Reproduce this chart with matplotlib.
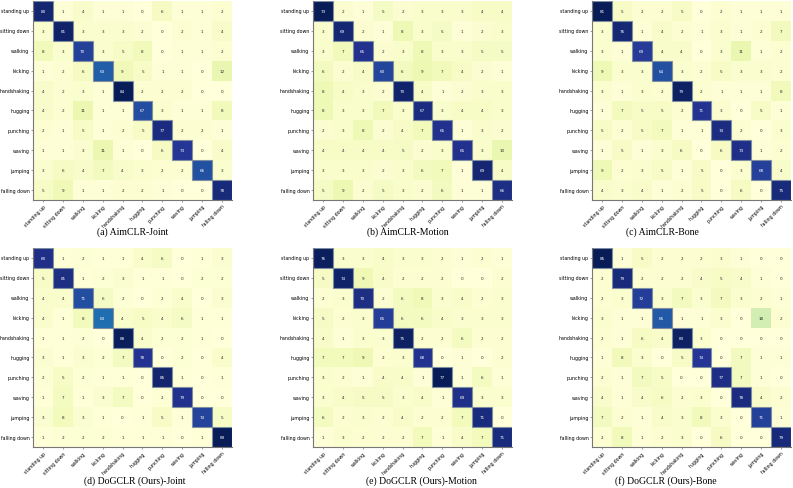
import numpy as np
import matplotlib
matplotlib.use("Agg")
import matplotlib.pyplot as plt
import seaborn as sns
from matplotlib.patches import Rectangle

classes = ["standing up", "sitting down", "walking", "kicking", "handshaking",
           "hugging", "punching", "waving", "jumping", "falling down"]

aimclr_joint = [
    [80, 1, 4, 1, 1, 0, 6, 1, 1, 2],
    [3, 81, 3, 3, 3, 2, 0, 2, 1, 4],
    [8, 3, 70, 3, 5, 8, 0, 1, 1, 2],
    [1, 2, 6, 63, 9, 5, 1, 1, 0, 12],
    [4, 2, 3, 1, 84, 2, 2, 2, 0, 0],
    [4, 2, 11, 1, 1, 67, 3, 1, 1, 8],
    [2, 1, 5, 1, 2, 5, 77, 2, 2, 1],
    [1, 1, 3, 11, 1, 0, 6, 73, 0, 4],
    [3, 6, 4, 7, 4, 3, 2, 2, 66, 3],
    [5, 9, 1, 1, 2, 2, 1, 0, 0, 78],
]
aimclr_motion = [
    [73, 2, 1, 5, 2, 3, 3, 3, 4, 4],
    [3, 69, 2, 1, 8, 3, 5, 1, 2, 3],
    [3, 7, 65, 2, 3, 8, 3, 3, 5, 5],
    [6, 2, 4, 60, 6, 9, 7, 4, 2, 1],
    [8, 4, 3, 2, 70, 4, 1, 2, 3, 3],
    [8, 3, 3, 7, 3, 67, 3, 4, 4, 3],
    [2, 3, 8, 2, 4, 7, 65, 1, 3, 2],
    [4, 4, 4, 4, 5, 2, 3, 65, 3, 10],
    [3, 3, 3, 2, 3, 6, 7, 1, 69, 4],
    [5, 9, 2, 5, 3, 2, 6, 1, 1, 66],
]
aimclr_bone = [
    [81, 5, 2, 2, 5, 0, 2, 1, 1, 1],
    [3, 76, 1, 4, 2, 1, 3, 1, 2, 7],
    [3, 1, 69, 4, 4, 0, 3, 11, 1, 2],
    [9, 3, 3, 64, 3, 2, 5, 3, 3, 2],
    [3, 1, 3, 2, 79, 2, 1, 1, 1, 8],
    [1, 7, 5, 5, 2, 71, 3, 0, 5, 1],
    [5, 2, 5, 7, 1, 1, 74, 2, 0, 3],
    [1, 5, 1, 3, 6, 0, 6, 73, 1, 2],
    [9, 2, 3, 5, 1, 5, 0, 3, 68, 4],
    [4, 3, 4, 1, 2, 5, 0, 6, 0, 75],
]
dogclr_joint = [
    [80, 1, 2, 1, 1, 4, 6, 0, 1, 3],
    [5, 81, 1, 2, 3, 1, 1, 0, 2, 2],
    [4, 4, 71, 6, 2, 0, 2, 4, 0, 3],
    [4, 1, 8, 63, 4, 5, 4, 6, 1, 1],
    [1, 1, 2, 0, 88, 4, 2, 2, 1, 0],
    [3, 1, 3, 2, 7, 78, 0, 2, 0, 4],
    [2, 5, 2, 1, 1, 0, 85, 1, 0, 1],
    [1, 7, 1, 3, 7, 0, 2, 79, 0, 0],
    [3, 8, 3, 1, 0, 1, 5, 1, 74, 5],
    [1, 2, 2, 2, 1, 1, 1, 0, 1, 89],
]
dogclr_motion = [
    [76, 3, 3, 4, 3, 3, 2, 1, 2, 1],
    [5, 74, 9, 4, 2, 2, 2, 0, 0, 2],
    [2, 3, 70, 2, 6, 8, 3, 4, 2, 3],
    [5, 2, 3, 65, 6, 6, 4, 3, 3, 3],
    [4, 1, 3, 3, 75, 2, 2, 6, 2, 2],
    [7, 7, 9, 2, 3, 68, 0, 1, 0, 2],
    [3, 2, 1, 4, 4, 1, 77, 1, 6, 1],
    [3, 4, 5, 5, 3, 4, 1, 69, 3, 3],
    [6, 2, 3, 2, 4, 2, 2, 7, 71, 0],
    [1, 3, 2, 2, 2, 7, 1, 4, 7, 71],
]
dogclr_bone = [
    [85, 1, 5, 2, 2, 2, 3, 1, 0, 0],
    [2, 79, 2, 2, 2, 4, 5, 4, 1, 0],
    [2, 3, 72, 3, 7, 3, 7, 3, 2, 1],
    [3, 1, 1, 65, 1, 1, 3, 0, 18, 2],
    [2, 1, 6, 4, 83, 3, 0, 0, 0, 0],
    [1, 8, 3, 0, 5, 74, 0, 7, 1, 1],
    [2, 1, 7, 5, 0, 0, 77, 7, 1, 0],
    [4, 1, 4, 6, 2, 3, 0, 78, 4, 2],
    [7, 2, 1, 4, 3, 8, 3, 0, 71, 1],
    [2, 8, 1, 2, 3, 0, 6, 0, 0, 79],
]

captions = ["(a) AimCLR-Joint", "(b) AimCLR-Motion", "(c) AimCLR-Bone",
            "(d) DoGCLR (Ours)-Joint", "(e) DoGCLR (Ours)-Motion", "(f) DoGCLR (Ours)-Bone"]
matrices = [aimclr_joint, aimclr_motion, aimclr_bone,
            dogclr_joint, dogclr_motion, dogclr_bone]

W, H = 793, 489
fig = plt.figure(figsize=(W / 100, H / 100), dpi=100)

lefts = [33, 313, 592]
tops = [2, 249]
size = 199
caption_x = [133, 408, 662, 135, 421, 666]
caption_y = [232, 481]

for k, (mat, cap) in enumerate(zip(matrices, captions)):
    r, c = divmod(k, 3)
    x0, y0 = lefts[c], tops[r]
    ax = fig.add_axes([x0 / W, 1 - (y0 + size) / H, size / W, size / H])
    data = np.array(mat)
    sns.heatmap(data, ax=ax, cmap="YlGnBu", vmin=0, cbar=False, annot=True, fmt="d",
                annot_kws={"fontsize": 3.0}, xticklabels=classes, yticklabels=classes,
                square=False)
    for i in range(len(classes)):
        ax.add_patch(Rectangle((i, i), 1, 1, fill=False, edgecolor="#7f8da3", lw=0.8))
    ax.tick_params(axis="both", labelsize=3.4, length=1.5, width=0.4, pad=1, color="#555555")
    ax.set_xticklabels(classes, rotation=45, ha="right", rotation_mode="anchor")
    ax.set_yticklabels(classes, rotation=0)
    for side in ["left", "bottom"]:
        ax.spines[side].set_visible(True)
        ax.spines[side].set_color("#777777")
        ax.spines[side].set_linewidth(0.8)
    fig.text(caption_x[k] / W, 1 - caption_y[r] / H, cap, ha="center", va="center",
             fontsize=7, family="Liberation Serif")

fig.savefig("out.png", dpi=100)
